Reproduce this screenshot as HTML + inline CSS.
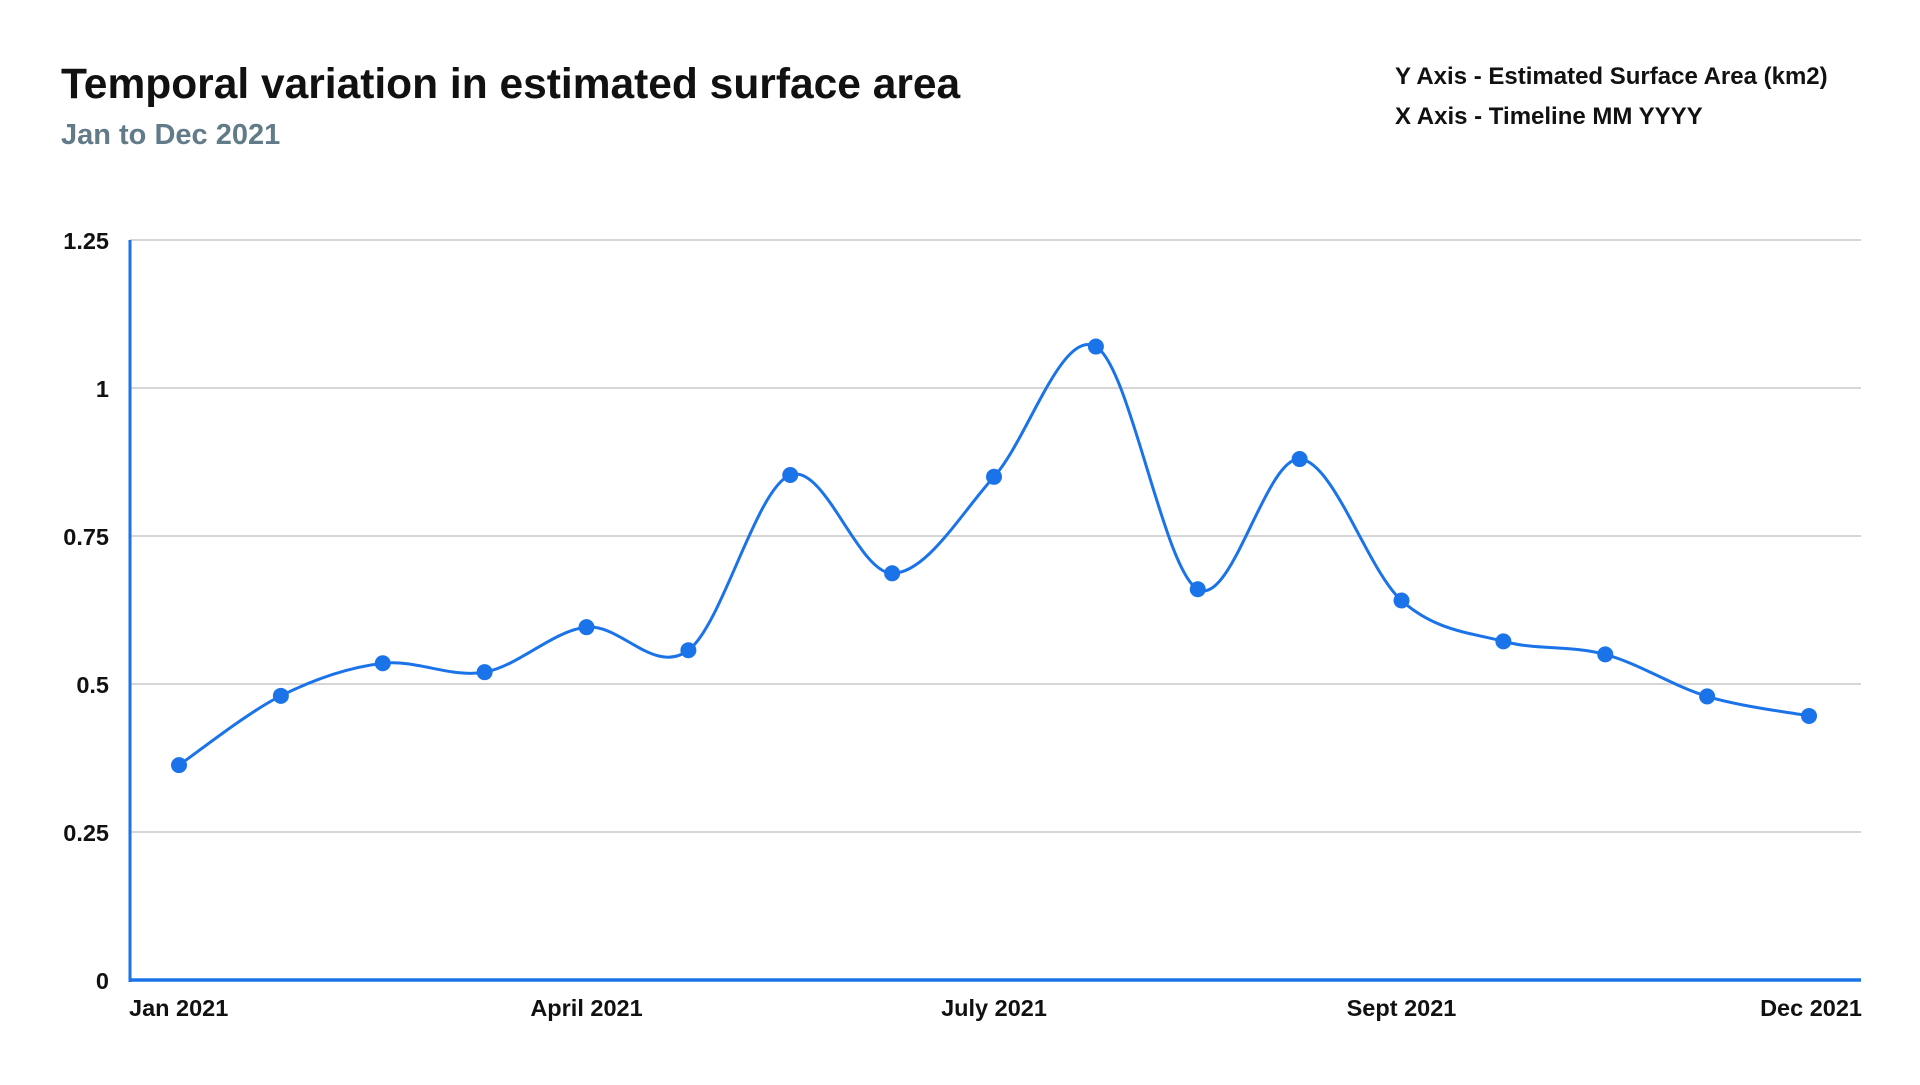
<!DOCTYPE html>
<html><head><meta charset="utf-8"><style>
body{margin:0;background:#fff;font-family:"Liberation Sans",sans-serif;}
svg text{font-family:"Liberation Sans",sans-serif;font-weight:bold;}
</style></head><body>
<svg id="chart" width="1920" height="1080">
<text x="61" y="98" font-size="42.5" fill="#111">Temporal variation in estimated surface area</text>
<text x="61" y="144" font-size="29" fill="#627b89">Jan to Dec 2021</text>
<text x="1395" y="84" font-size="24" fill="#111">Y Axis - Estimated Surface Area (km2)</text>
<text x="1395" y="124" font-size="24" fill="#111">X Axis - Timeline MM YYYY</text>
<g id="grid"></g><g id="series"></g>
</svg>
<script>
const values=[0.363,0.48,0.535,0.52,0.596,0.557,0.853,0.687,0.85,1.07,0.66,0.88,0.641,0.572,0.55,0.479,0.446];
const yTicks=[0,0.25,0.5,0.75,1,1.25];
const yTickLabels=["0","0.25","0.5","0.75","1","1.25"];
const xLabelIdx=[0,4,8,12,16];
const xLabels=["Jan 2021","April 2021","July 2021","Sept 2021","Dec 2021"];
const NS="http://www.w3.org/2000/svg";
const L=130,R=1861,T=240,B=980,x0=179,x1=1809;
const xs=i=>x0+(x1-x0)*i/(values.length-1);
const ys=v=>B-(B-T)*v/1.25;
const g=document.getElementById('grid'),s=document.getElementById('series');
function mk(p,tag,a){const e=document.createElementNS(NS,tag);for(const k in a)e.setAttribute(k,a[k]);p.appendChild(e);return e;}
yTicks.forEach((v,i)=>{
 if(v>0){const l=mk(g,'line',{x1:L,x2:R,y1:ys(v),y2:ys(v),stroke:'#c8c8c8','stroke-width':1.5});
 
 }
 const t=mk(g,'text',{x:109,y:ys(v)+9,'text-anchor':'end','font-size':23.5,fill:'#111'});
 t.textContent=yTickLabels[i];
 
 
});
xLabelIdx.forEach((idx,i)=>{
 const anchor=i==0?'start':(i==xLabelIdx.length-1?'end':'middle');
 const xx=i==0?129:(i==xLabelIdx.length-1?1862:xs(idx));
 const t=mk(g,'text',{x:xx,y:1016,'text-anchor':anchor,'font-size':23.5,fill:'#111'});
 t.textContent=xLabels[i];
 
 
});
const ya=mk(g,'line',{x1:L,x2:L,y1:T,y2:B+2,stroke:'#1a73e8','stroke-width':3});


const xa=mk(g,'line',{x1:L-1,x2:R,y1:B,y2:B,stroke:'#1a73e8','stroke-width':3.5});


const P=values.map((v,i)=>[xs(i),ys(v)]);
let d=`M${P[0][0]},${P[0][1]}`;
for(let i=0;i<P.length-1;i++){
 const p0=P[Math.max(0,i-1)],p1=P[i],p2=P[i+1],p3=P[Math.min(P.length-1,i+2)];
 const k=1/6;
 d+=` C${p1[0]+(p2[0]-p0[0])*k},${p1[1]+(p2[1]-p0[1])*k} ${p2[0]-(p3[0]-p1[0])*k},${p2[1]-(p3[1]-p1[1])*k} ${p2[0]},${p2[1]}`;
}
const path=mk(s,'path',{d:d,fill:'none',stroke:'#1a73e8','stroke-width':3});


P.forEach(p=>{
 const c=mk(s,'circle',{cx:p[0],cy:p[1],r:8,fill:'#1a73e8'});
 
 
});
</script>
</body></html>
